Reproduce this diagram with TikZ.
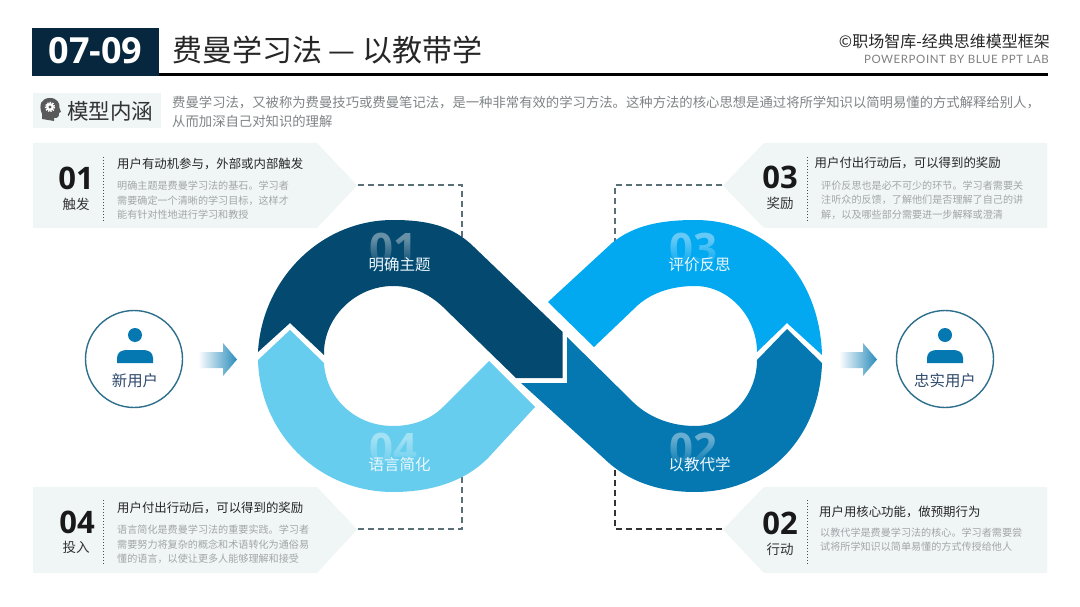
\documentclass[tikz,border=0pt]{standalone}
\usepackage{fontspec}
\setmainfont{Noto Sans CJK SC}
\newfontfamily\numfont{Open Sans}
\newfontfamily\labfont[LetterSpace=5]{Lato}
\usetikzlibrary{fadings, calc}
\definecolor{headdark}{HTML}{07273F}
\definecolor{panelbg}{HTML}{F0F5F6}
\definecolor{ribdark}{HTML}{04496F}
\definecolor{ribbright}{HTML}{02A8F0}
\definecolor{ribmid}{HTML}{0578B1}
\definecolor{riblight}{HTML}{66CDEE}
\definecolor{bodygray}{HTML}{A2A6A8}
\definecolor{introgray}{HTML}{808486}
\definecolor{usertext}{HTML}{2F4A6B}
\definecolor{userring}{HTML}{2D6F8C}
\definecolor{linkgray}{HTML}{5B6F76}
\newcommand{\fs}[1]{\fontsize{#1}{#1}\selectfont}
\tikzstyle{panel} = [fill=panelbg]
\tikzstyle{linkline} = [line width=1.3pt, dash pattern=on 6pt off 4pt]
\tikzstyle{numtext} = [inner sep=0, font={\numfont\bfseries\fs{31}}, text=black!90]
\tikzstyle{tagtext} = [inner sep=0, font=\fs{13.5}, text=black!80]
\tikzstyle{headtext} = [anchor=west, inner sep=0, font=\fs{12.4}, text=black!85]
\tikzstyle{bodytext} = [anchor=west, inner sep=0, align=left, text=bodygray, font={\fontsize{10.1}{14.5}\selectfont}]
\tikzstyle{ribtext} = [inner sep=0, text=white!92!cyan, font=\fs{15.5}]
\tikzstyle{ghostnum} = [inner sep=0, text=white, text opacity=0.4, font={\numfont\bfseries\fs{42}}]
\tikzstyle{usercircle} = [circle, draw=userring, line width=1.4pt, minimum size=97pt, inner sep=0]
\tikzstyle{usertag} = [inner sep=0, text=usertext, font=\fs{15.4}]
\tikzstyle{divider} = [line width=1pt, dotted, black!70]
\begin{document}
\begin{tikzpicture}[x=1pt, y=-1pt]
    \useasboundingbox (0,0) rectangle (1080,607);
    \fill[white] (0,0) rectangle (1080,607);

    \fill[black] (159,73.5) rectangle (1048,76.5);
    \fill[headdark] (32,28) rectangle (159,76);
    \node at (95.5,51) [inner sep=0, text=white, font={\numfont\bfseries\fs{36}}] (pagenum) {07-09};
    \node at (172,50) [anchor=west, inner sep=0, font=\fs{30}, text=black!85] (title) {费曼学习法 — 以教带学};
    \node at (1050,41) [anchor=east, inner sep=0, font=\fs{16}, text=black!85] (brand) {©职场智库-经典思维模型框架};
    \node at (1049,59) [anchor=east, inner sep=0, font={\labfont\fs{11.5}}, text=black!50] (lab) {POWERPOINT BY BLUE PPT LAB};

    \fill[panelbg] (33,93) rectangle (161,128);
    \fill[black!65] (42,119) -- (42,114) .. controls (38,104) and (42,98) .. (50,98) .. controls (57,98) and (60,103) .. (59.5,108) -- (61,112) -- (59,113) .. controls (59,117) and (58,118) .. (54,118) -- (54,121) -- cycle;
    \draw[white, line width=1.3pt, dash pattern=on 1.4pt off 1.2pt] (50,107) circle (4.6);
    \fill[white] (50,107) circle (4);
    \fill[black!65] (50,107) circle (1.6);
    \node at (67,111.5) [anchor=west, inner sep=0, font=\fs{21.5}, text=black!80] (modelname) {模型内涵};
    \node at (172,112) [anchor=west, inner sep=0, align=left, text=introgray, font={\fontsize{13.35}{19.5}\selectfont}] (intro) {费曼学习法，又被称为费曼技巧或费曼笔记法，是一种非常有效的学习方法。这种方法的核心思想是通过将所学知识以简明易懂的方式解释给别人，\\从而加深自己对知识的理解};

    \fill[panel] (33,143) -- (317,143) -- (357,185.5) -- (317,228) -- (33,228) -- cycle;
    \fill[panel] (1047,143) -- (764,143) -- (723,185.5) -- (764,228) -- (1047,228) -- cycle;
    \fill[panel] (33,487) -- (317,487) -- (357,529.5) -- (317,573) -- (33,573) -- cycle;
    \fill[panel] (1047,487) -- (764,487) -- (723,529.5) -- (764,573) -- (1047,573) -- cycle;

    \coordinate (tipa) at (358,185);
    \coordinate (tipb) at (722,529);
    \coordinate (tipc) at (722,185);
    \coordinate (tipd) at (358,529);
    \coordinate (ribbona) at (462,250);
    \coordinate (ribbonb) at (615,470);
    \coordinate (ribbonc) at (615,250);
    \coordinate (ribbond) at (462,470);
    \draw[linkline, linkgray] (tipa) -| (ribbona);
    \draw[linkline, black!80] (tipb) -| (ribbonb);
    \draw[linkline, linkgray] (tipc) -| (ribbonc);
    \draw[linkline, linkgray] (tipd) -| (ribbond);

    \fill[ribdark] (258,352) .. controls (262,280) and (320,220) .. (393,220) .. controls (425,220) and (452,225) .. (474,247) -- (562.6,332) -- (562.6,378) -- (516,378) -- (443,307) .. controls (428,293) and (412,286) .. (393,286) .. controls (355,286) and (323,318) .. (324,355) -- (290,323) -- cycle;
    \fill[ribbright] (548,302) -- (612,243) .. controls (634,225) and (662,220) .. (695,220) .. controls (770,220) and (820,280) .. (822,355) -- (787,323) -- (757,352) .. controls (757,318) and (730,286) .. (695,286) .. controls (673,286) and (653,292) .. (638,305) -- (594,347) -- cycle;
    \fill[ribmid] (567,337) -- (634,403) .. controls (650,418) and (672,426) .. (695,426) .. controls (730,426) and (757,395) .. (757,360) -- (787,329) -- (822,363) .. controls (820,435) and (770,492) .. (695,492) .. controls (660,492) and (628,482) .. (603.5,458) -- (521,383) -- (567,383) -- cycle;
    \fill[riblight] (258,360) -- (290,330) -- (324,363) .. controls (326,398) and (355,426) .. (393,426) .. controls (412,426) and (430,420) .. (443,407) -- (489,361) -- (535,407) -- (489,457) .. controls (465,482) and (430,492) .. (393,492) .. controls (320,492) and (260,435) .. (258,360) -- cycle;

    \foreach \x/\y/\n/\c/\t in {393/248/01/ribdark/明确主题, 693/248/03/ribbright/评价反思, 393/448/04/riblight/语言简化, 693/448/02/ribmid/以教代学} {
        \node at (\x,\y) [ghostnum] (ghost\n) {\n};
        \fill[\c, path fading=north] (\x-32,\y-10) rectangle (\x+32,\y+18);
        \node at (\x+6.5,\y+17) [ribtext] (rib\n) {\t};
    }

    \node at (76,178) [numtext] (numa) {01};
    \node at (76,204) [tagtext] (taga) {触发};
    \draw[divider] (103,157) -- (103,221);
    \node at (117,164) [headtext] (heada) {用户有动机参与，外部或内部触发};
    \node at (117,200.5) [bodytext] (bodya) {明确主题是费曼学习法的基石。学习者\\需要确定一个清晰的学习目标，这样才\\能有针对性地进行学习和教授};

    \node at (780,177) [numtext] (numc) {03};
    \node at (780,203) [tagtext] (tagc) {奖励};
    \draw[divider] (807,157) -- (807,221);
    \node at (814.5,163) [headtext] (headc) {用户付出行动后，可以得到的奖励};
    \node at (821,200) [bodytext] (bodyc) {评价反思也是必不可少的环节。学习者需要关\\注听众的反馈，了解他们是否理解了自己的讲\\解，以及哪些部分需要进一步解释或澄清};

    \node at (77,522) [numtext] (numd) {04};
    \node at (76,547) [tagtext] (tagd) {投入};
    \draw[divider] (103,500) -- (103,565);
    \node at (117,508) [headtext] (headd) {用户付出行动后，可以得到的奖励};
    \node at (117,544.5) [bodytext] (bodyd) {语言简化是费曼学习法的重要实践。学习者\\需要努力将复杂的概念和术语转化为通俗易\\懂的语言，以使让更多人能够理解和接受};

    \node at (780,523) [numtext] (numb) {02};
    \node at (780,549) [tagtext] (tagb) {行动};
    \draw[divider] (807,500) -- (807,565);
    \node at (819,512) [headtext] (headb) {用户用核心功能，做预期行为};
    \node at (820,539.5) [bodytext] (bodyb) {以教代学是费曼学习法的核心。学习者需要尝\\试将所学知识以简单易懂的方式传授给他人};

    \node at (134,359) [usercircle] (newuser) {};
    \node at (945,359) [usercircle] (loyaluser) {};
    \foreach \x in {135,945} {
        \begin{scope}[shift={(\x,0)}]
            \fill[ribmid] (0,335) circle (7);
            \fill[ribmid] (-18,363) -- (-18,358) .. controls (-18,352) and (-13,350) .. (-8,350) -- (8,350) .. controls (13,350) and (18,352) .. (18,358) -- (18,363) -- cycle;
        \end{scope}
    }
    \node at (135,381) [usertag] (newtag) {新用户};
    \node at (945,381) [usertag] (loyaltag) {忠实用户};

    \shade[left color=white, right color=ribmid!85] (198,352) -- (223,352) -- (223,343) -- (237,359.5) -- (223,376) -- (223,368) -- (198,368) -- cycle;
    \shade[left color=white, right color=ribmid!85] (839,352) -- (863,352) -- (863,343) -- (877,359.5) -- (863,376) -- (863,368) -- (839,368) -- cycle;
\end{tikzpicture}
\end{document}
